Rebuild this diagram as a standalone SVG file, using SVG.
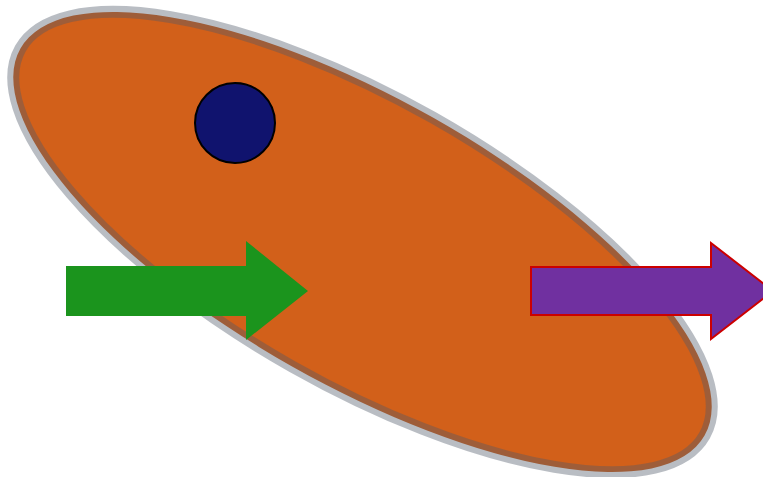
<svg xmlns="http://www.w3.org/2000/svg" width="763" height="477" viewBox="0 0 763 477">
  <style>
    .blob { fill: #D2601A; stroke: #4F5969; stroke-opacity: 0.4; stroke-width: 12; }
    .dot { fill: #10136E; stroke: #000000; stroke-width: 2; }
    .arrow-green { fill: #1B941D; stroke: none; }
    .arrow-purple { fill: #7030A0; stroke: #CC0000; stroke-width: 2; }
  </style>
  <rect width="763" height="477" fill="#FFFFFF"/>
  <g id="ellipse">
    <ellipse class="blob" cx="362.5" cy="242" rx="393" ry="143" transform="rotate(29.5 362.5 242)"/>
  </g>
  <g id="circle">
    <circle class="dot" cx="235" cy="123" r="40"/>
  </g>
  <g id="green-arrow">
    <polygon class="arrow-green" points="66,266 246,266 246,241 308,291 246,340 246,316 66,316"/>
  </g>
  <g id="purple-arrow">
    <polygon class="arrow-purple" points="531,267 711,267 711,243 773,291 711,339 711,315 531,315"/>
  </g>
</svg>
